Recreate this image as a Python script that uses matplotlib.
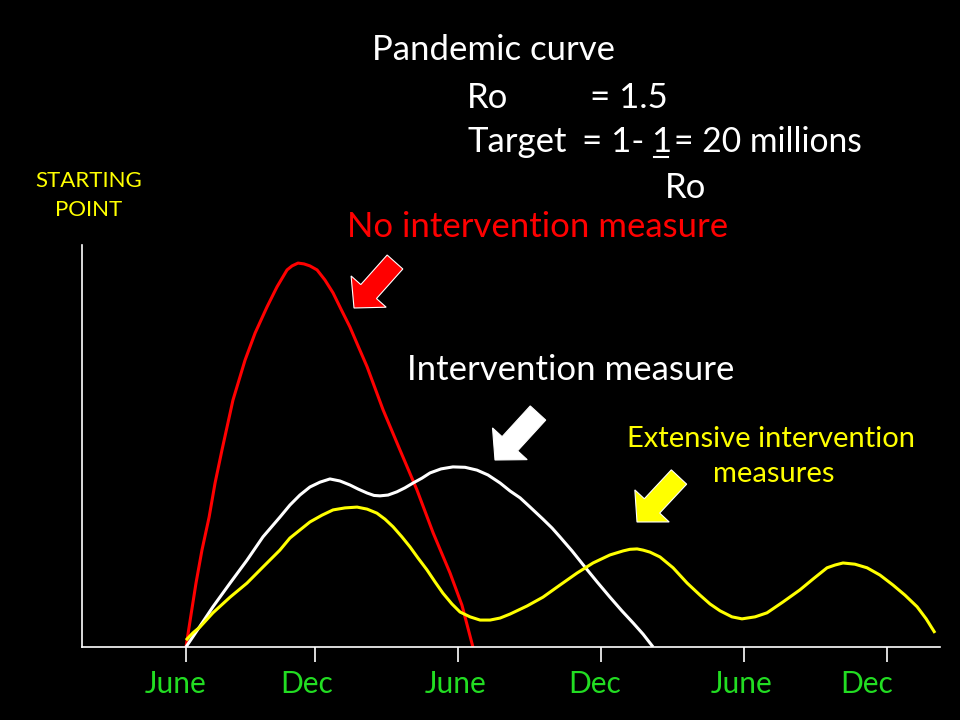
import numpy as np
import matplotlib
matplotlib.use('Agg')
import matplotlib.pyplot as plt
from matplotlib.patches import FancyArrow

plt.rcParams['font.family'] = ['Lato', 'DejaVu Sans']

# time in months from the first June, level in % of the axis height
red_t = [0, 0.21, 0.42, 0.67, 0.97, 1.22, 1.51, 1.97, 2.48, 2.90, 3.40, 3.82, 4.24, 4.45,
         4.70, 4.95, 5.20, 5.50, 5.83, 6.17, 6.50, 6.88, 7.22, 7.60, 8.27, 8.98, 9.69,
         10.37, 11.08, 11.58, 12.04]
red_y = [0, 8.0, 15.9, 24.1, 32.3, 40.8, 49.0, 61.4, 71.4, 78.1, 84.6, 89.6, 93.8, 94.8,
         95.5, 95.3, 94.8, 93.8, 91.3, 88.1, 84.1, 79.6, 74.9, 69.7, 59.0, 49.0, 39.1,
         28.4, 18.4, 10.4, 0]

white_t = [0, 0.59, 1.13, 1.85, 2.56, 3.23, 3.94, 4.36, 4.78, 5.20, 5.62, 6.04, 6.46, 6.88,
           7.22, 7.60, 7.89, 8.14, 8.48, 8.85, 9.19, 9.53, 9.90, 10.24, 10.70, 11.20,
           11.71, 12.21, 12.67, 13.18, 13.60, 14.02, 14.44, 14.98, 15.36, 15.69, 16.20,
           16.74, 17.25, 17.79, 18.29, 18.76, 19.18, 19.60]
white_y = [0, 5.2, 10.0, 15.9, 21.6, 27.4, 32.3, 35.3, 37.8, 39.8, 41.0, 41.8, 41.3, 40.3,
           39.3, 38.3, 37.7, 37.6, 37.8, 38.6, 39.6, 40.8, 42.0, 43.3, 44.3, 44.8,
           44.7, 44.0, 42.8, 40.8, 38.8, 37.1, 34.8, 31.8, 29.6, 27.4, 23.9,
           19.9, 16.2, 12.4, 9.0, 6.0, 3.2, 0]

yellow_t = [0, 0.29, 0.59, 1.13, 1.85, 2.56, 3.23, 3.94, 4.36, 4.78, 5.20, 5.71, 6.17, 6.67,
            7.18, 7.60, 8.01, 8.35, 8.69, 9.06, 9.40, 9.74, 10.11, 10.45, 10.78, 11.16,
            11.50, 11.92, 12.34, 12.76, 13.18, 13.60, 14.31, 14.98, 15.69, 16.41, 17.08,
            17.79, 18.34, 18.63, 18.93, 19.18, 19.47, 19.89, 20.44, 21.03, 21.57, 21.99,
            22.41, 22.91, 23.33, 23.88, 24.38, 25.05, 25.76, 26.31, 26.90, 27.24, 27.57,
            28.07, 28.58, 29.12, 29.67, 30.17, 30.68, 31.06, 31.43]
yellow_y = [1.7, 3.5, 5.0, 8.5, 12.4, 15.9, 19.9, 24.1, 27.1, 29.1, 31.1, 32.8, 34.1, 34.6,
            34.8, 34.3, 33.3, 31.8, 29.9, 27.4, 24.9, 22.1, 19.2, 16.2, 13.4, 10.7,
            8.7, 7.5, 6.7, 6.7, 7.2, 8.2, 10.2, 12.4, 15.4, 18.4, 20.9,
            22.9, 23.9, 24.3, 24.4, 24.1, 23.6, 22.4, 19.7, 15.9, 12.9, 10.7,
            9.0, 7.5, 7.0, 7.5, 8.5, 11.2, 14.2, 16.9, 19.7, 20.4, 20.9,
            20.6, 19.7, 17.9, 15.4, 12.9, 10.0, 7.0, 3.5]

tick_pos = [0, 5.4, 11.4, 17.4, 23.4, 29.4]
label_pos = [-0.42, 5.08, 11.33, 17.16, 23.33, 28.58]
tick_labels = ['June', 'Dec', 'June', 'Dec', 'June', 'Dec']

green = '#22dd22'
yellow = '#ffff00'
red = '#ff0000'

fig = plt.figure(figsize=(9.6, 7.2), dpi=100, facecolor='black')

# main chart
ax = fig.add_axes([82 / 960, 1 - 647 / 720, (940 - 82) / 960, (647 - 245) / 720])
ax.set_facecolor('black')
for t, y, c in [(red_t, red_y, red), (white_t, white_y, 'white'),
                (yellow_t, yellow_y, yellow)]:
    ax.plot(t, y, color=c, lw=2.2, solid_capstyle='butt', solid_joinstyle='round')
ax.set_xlim(-4.364, 31.64)
ax.set_ylim(0, 100)
for s in ['top', 'right']:
    ax.spines[s].set_visible(False)
for s in ['left', 'bottom']:
    ax.spines[s].set_color('white')
    ax.spines[s].set_linewidth(1.2)
ax.set_yticks([])
ax.set_xticks(tick_pos)
ax.set_xticklabels([])
ax.tick_params(axis='x', colors='white', length=11, width=1.2, direction='out')
for p, lab in zip(label_pos, tick_labels):
    ax.text(p, -0.115, lab, transform=ax.get_xaxis_transform(), color=green,
            fontsize=21.5, ha='center', va='baseline')

# overlay in pixel coordinates for the slide texts and arrows
ov = fig.add_axes([0, 0, 1, 1], facecolor='none')
ov.set_xlim(0, 960)
ov.set_ylim(720, 0)
ov.axis('off')

fs = 25
ov.text(372, 60, 'Pandemic curve', color='white', fontsize=fs, va='baseline')
ov.text(467, 108, 'Ro', color='white', fontsize=fs, va='baseline')
ov.text(590, 108, '= 1.5', color='white', fontsize=fs, va='baseline')
ov.text(467, 152, 'Target', color='white', fontsize=fs, va='baseline')
ov.text(582, 152, '= 1-', color='white', fontsize=fs, va='baseline')
ov.text(661, 152, '1', color='white', fontsize=fs, va='baseline', ha='center')
ov.plot([654, 668], [157, 157], color='white', lw=1.5)
ov.text(862, 152, '= 20 millions', color='white', fontsize=24.2, va='baseline', ha='right')
ov.text(665, 198, 'Ro', color='white', fontsize=fs, va='baseline')

ov.text(89, 187, 'STARTING', color=yellow, fontsize=16, ha='center', va='baseline')
ov.text(89, 216, 'POINT', color=yellow, fontsize=16, ha='center', va='baseline')

ov.text(347, 237, 'No intervention measure', color=red, fontsize=fs, va='baseline')
ov.text(407, 380, 'Intervention measure', color='white', fontsize=fs, va='baseline')
ov.text(771, 447, 'Extensive intervention', color=yellow, fontsize=21, ha='center',
        va='baseline')
ov.text(774, 482, 'measures', color=yellow, fontsize=21, ha='center', va='baseline')

arrows = [((395, 262), (354, 308), red),
          ((538, 413), (495, 460), 'white'),
          ((679, 477), (637, 522), yellow)]
for (x0, y0), (x1, y1), c in arrows:
    ov.add_patch(FancyArrow(x0, y0, x1 - x0, y1 - y0, width=21, head_width=47,
                            head_length=22, length_includes_head=True,
                            facecolor=c, edgecolor='white', lw=0.8))

fig.savefig('out.png', dpi=100, facecolor='black')
